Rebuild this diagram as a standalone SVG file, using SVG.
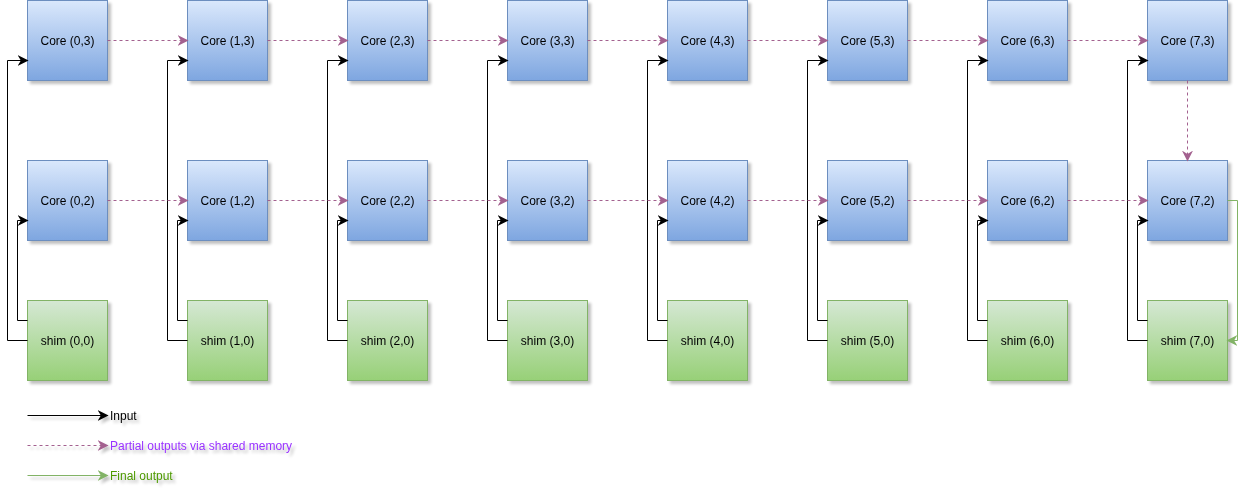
<svg xmlns="http://www.w3.org/2000/svg" width="1257" height="502" viewBox="0 0 1257 502">
  <defs>
    <linearGradient id="gCore" x1="0" y1="0" x2="0" y2="1">
      <stop offset="0" stop-color="#dae8fc"/>
      <stop offset="1" stop-color="#7ea6e0"/>
    </linearGradient>
    <linearGradient id="gShim" x1="0" y1="0" x2="0" y2="1">
      <stop offset="0" stop-color="#d5e8d4"/>
      <stop offset="1" stop-color="#97d077"/>
    </linearGradient>
    <filter id="shadow" x="-20%" y="-20%" width="140%" height="140%">
      <feGaussianBlur in="SourceAlpha" stdDeviation="1.5"/>
      <feOffset dx="3" dy="3" result="b"/>
      <feComponentTransfer><feFuncA type="linear" slope="0.25"/></feComponentTransfer>
      <feMerge><feMergeNode/><feMergeNode in="SourceGraphic"/></feMerge>
    </filter>
    <marker id="aBlack" viewBox="0 0 10 10" refX="9" refY="5" markerWidth="11" markerHeight="11" markerUnits="userSpaceOnUse" orient="auto">
      <path d="M0,0 L10,5 L0,10 L3,5 Z" fill="#000"/>
    </marker>
    <marker id="aPurple" viewBox="0 0 10 10" refX="9" refY="5" markerWidth="11" markerHeight="11" markerUnits="userSpaceOnUse" orient="auto">
      <path d="M0,0 L10,5 L0,10 L3,5 Z" fill="#a3618f"/>
    </marker>
    <marker id="aGreen" viewBox="0 0 10 10" refX="9" refY="5" markerWidth="11" markerHeight="11" markerUnits="userSpaceOnUse" orient="auto">
      <path d="M0,0 L10,5 L0,10 L3,5 Z" fill="#82b366"/>
    </marker>
  </defs>
  <style>
    .core { fill: url(#gCore); stroke: #6c8ebf; stroke-width: 1; }
    .shim { fill: url(#gShim); stroke: #82b366; stroke-width: 1; }
    .lbl { font-family: "Liberation Sans", Arial, sans-serif; font-size: 12px; fill: #000; text-anchor: middle; dominant-baseline: central; }
    .in { fill: none; stroke: #000; stroke-width: 1; marker-end: url(#aBlack); }
    .part { fill: none; stroke: #a3618f; stroke-width: 1; stroke-dasharray: 3 3; marker-end: url(#aPurple); }
    .fin { fill: none; stroke: #82b366; stroke-width: 1; marker-end: url(#aGreen); }
    .leg { font-family: "Liberation Sans", Arial, sans-serif; font-size: 12px; dominant-baseline: central; }
  </style>

  <!-- compute tiles: cores in rows 3 and 2, shim tiles in row 0 -->
  <g id="nodes" filter="url(#shadow)">
    <g id="core-0-3"><rect class="core" x="27.5" y="0.5" width="80" height="80"/><text class="lbl" x="67.5" y="40.5">Core (0,3)</text></g>
    <g id="core-1-3"><rect class="core" x="187.5" y="0.5" width="80" height="80"/><text class="lbl" x="227.5" y="40.5">Core (1,3)</text></g>
    <g id="core-2-3"><rect class="core" x="347.5" y="0.5" width="80" height="80"/><text class="lbl" x="387.5" y="40.5">Core (2,3)</text></g>
    <g id="core-3-3"><rect class="core" x="507.5" y="0.5" width="80" height="80"/><text class="lbl" x="547.5" y="40.5">Core (3,3)</text></g>
    <g id="core-4-3"><rect class="core" x="667.5" y="0.5" width="80" height="80"/><text class="lbl" x="707.5" y="40.5">Core (4,3)</text></g>
    <g id="core-5-3"><rect class="core" x="827.5" y="0.5" width="80" height="80"/><text class="lbl" x="867.5" y="40.5">Core (5,3)</text></g>
    <g id="core-6-3"><rect class="core" x="987.5" y="0.5" width="80" height="80"/><text class="lbl" x="1027.5" y="40.5">Core (6,3)</text></g>
    <g id="core-7-3"><rect class="core" x="1147.5" y="0.5" width="80" height="80"/><text class="lbl" x="1187.5" y="40.5">Core (7,3)</text></g>

    <g id="core-0-2"><rect class="core" x="27.5" y="160.5" width="80" height="80"/><text class="lbl" x="67.5" y="200.5">Core (0,2)</text></g>
    <g id="core-1-2"><rect class="core" x="187.5" y="160.5" width="80" height="80"/><text class="lbl" x="227.5" y="200.5">Core (1,2)</text></g>
    <g id="core-2-2"><rect class="core" x="347.5" y="160.5" width="80" height="80"/><text class="lbl" x="387.5" y="200.5">Core (2,2)</text></g>
    <g id="core-3-2"><rect class="core" x="507.5" y="160.5" width="80" height="80"/><text class="lbl" x="547.5" y="200.5">Core (3,2)</text></g>
    <g id="core-4-2"><rect class="core" x="667.5" y="160.5" width="80" height="80"/><text class="lbl" x="707.5" y="200.5">Core (4,2)</text></g>
    <g id="core-5-2"><rect class="core" x="827.5" y="160.5" width="80" height="80"/><text class="lbl" x="867.5" y="200.5">Core (5,2)</text></g>
    <g id="core-6-2"><rect class="core" x="987.5" y="160.5" width="80" height="80"/><text class="lbl" x="1027.5" y="200.5">Core (6,2)</text></g>
    <g id="core-7-2"><rect class="core" x="1147.5" y="160.5" width="80" height="80"/><text class="lbl" x="1187.5" y="200.5">Core (7,2)</text></g>

    <g id="shim-0-0"><rect class="shim" x="27.5" y="300.5" width="80" height="80"/><text class="lbl" x="67.5" y="340.5">shim (0,0)</text></g>
    <g id="shim-1-0"><rect class="shim" x="187.5" y="300.5" width="80" height="80"/><text class="lbl" x="227.5" y="340.5">shim (1,0)</text></g>
    <g id="shim-2-0"><rect class="shim" x="347.5" y="300.5" width="80" height="80"/><text class="lbl" x="387.5" y="340.5">shim (2,0)</text></g>
    <g id="shim-3-0"><rect class="shim" x="507.5" y="300.5" width="80" height="80"/><text class="lbl" x="547.5" y="340.5">shim (3,0)</text></g>
    <g id="shim-4-0"><rect class="shim" x="667.5" y="300.5" width="80" height="80"/><text class="lbl" x="707.5" y="340.5">shim (4,0)</text></g>
    <g id="shim-5-0"><rect class="shim" x="827.5" y="300.5" width="80" height="80"/><text class="lbl" x="867.5" y="340.5">shim (5,0)</text></g>
    <g id="shim-6-0"><rect class="shim" x="987.5" y="300.5" width="80" height="80"/><text class="lbl" x="1027.5" y="340.5">shim (6,0)</text></g>
    <g id="shim-7-0"><rect class="shim" x="1147.5" y="300.5" width="80" height="80"/><text class="lbl" x="1187.5" y="340.5">shim (7,0)</text></g>
  </g>

  <g id="connectors">
    <!-- inputs: each shim feeds both cores of its column -->
    <path class="in" d="M27.5,340.5 H7.5 V60.5 H27.5"/>
    <path class="in" d="M27.5,320.5 H17.5 V220.5 H27.5"/>
    <path class="in" d="M187.5,340.5 H167.5 V60.5 H187.5"/>
    <path class="in" d="M187.5,320.5 H177.5 V220.5 H187.5"/>
    <path class="in" d="M347.5,340.5 H327.5 V60.5 H347.5"/>
    <path class="in" d="M347.5,320.5 H337.5 V220.5 H347.5"/>
    <path class="in" d="M507.5,340.5 H487.5 V60.5 H507.5"/>
    <path class="in" d="M507.5,320.5 H497.5 V220.5 H507.5"/>
    <path class="in" d="M667.5,340.5 H647.5 V60.5 H667.5"/>
    <path class="in" d="M667.5,320.5 H657.5 V220.5 H667.5"/>
    <path class="in" d="M827.5,340.5 H807.5 V60.5 H827.5"/>
    <path class="in" d="M827.5,320.5 H817.5 V220.5 H827.5"/>
    <path class="in" d="M987.5,340.5 H967.5 V60.5 H987.5"/>
    <path class="in" d="M987.5,320.5 H977.5 V220.5 H987.5"/>
    <path class="in" d="M1147.5,340.5 H1127.5 V60.5 H1147.5"/>
    <path class="in" d="M1147.5,320.5 H1137.5 V220.5 H1147.5"/>

    <!-- partial sums passed along rows through shared memory -->
    <path class="part" d="M107.5,40.5 H187.5"/>
    <path class="part" d="M267.5,40.5 H347.5"/>
    <path class="part" d="M427.5,40.5 H507.5"/>
    <path class="part" d="M587.5,40.5 H667.5"/>
    <path class="part" d="M747.5,40.5 H827.5"/>
    <path class="part" d="M907.5,40.5 H987.5"/>
    <path class="part" d="M1067.5,40.5 H1147.5"/>
    <path class="part" d="M107.5,200.5 H187.5"/>
    <path class="part" d="M267.5,200.5 H347.5"/>
    <path class="part" d="M427.5,200.5 H507.5"/>
    <path class="part" d="M587.5,200.5 H667.5"/>
    <path class="part" d="M747.5,200.5 H827.5"/>
    <path class="part" d="M907.5,200.5 H987.5"/>
    <path class="part" d="M1067.5,200.5 H1147.5"/>
    <path class="part" d="M1187.5,80.5 V160.5"/>

    <!-- final result back to the shim -->
    <path class="fin" d="M1227.5,200.5 H1237.5 V340.5 H1227.5"/>
  </g>

  <!-- legend -->
  <g id="legend" filter="url(#shadow)">
    <path class="in" d="M27.5,415.5 H107.5"/>
    <text class="leg" x="110" y="415.5" fill="#000000">Input</text>
    <path class="part" d="M27.5,445.5 H107.5"/>
    <text class="leg" x="110" y="445.5" fill="#9933ff">Partial outputs via shared memory</text>
    <path class="fin" d="M27.5,475.5 H107.5"/>
    <text class="leg" x="110" y="475.5" fill="#4d9900">Final output</text>
  </g>
</svg>
